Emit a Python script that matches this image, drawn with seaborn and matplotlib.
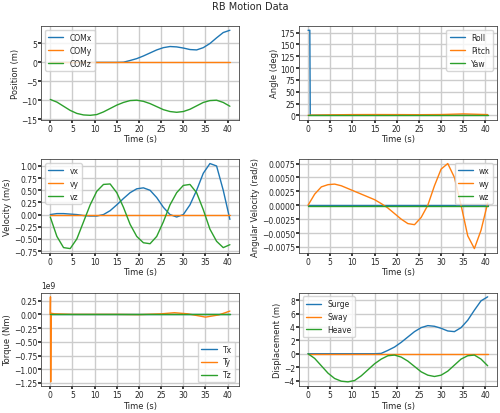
import matplotlib
matplotlib.use("Agg")
import matplotlib.pyplot as plt
import seaborn as sns
import numpy as np

t = [0, 1.5, 3, 4.5, 6, 7.5, 9, 10.5, 12, 13.5, 15, 16.5, 18, 19.5, 21, 22.5, 24, 25.5,
     27, 28.5, 30, 31.5, 33, 34.5, 36, 37.5, 39, 40.5]
com_x = [0, 0, 0, 0, 0, 0, 0, 0, 0, 0, 0, 0.05, 0.5, 1.0, 1.7, 2.5, 3.3, 3.9,
         4.2, 4.1, 3.8, 3.4, 3.3, 3.9, 5.0, 6.5, 7.9, 8.5]
com_y = [0.0] * len(t)
com_z = [-9.8, -10.5, -11.6, -12.7, -13.5, -13.9, -14.0, -13.8, -13.1, -12.2, -11.3, -10.6, -10.1, -10.0,
         -10.3, -10.9, -11.7, -12.5, -13.0, -13.2, -13.0, -12.4, -11.5, -10.6, -10.1, -10.0, -10.6, -11.6]

t_ang = [0, 0.4, 0.5, 5, 10, 15, 20, 25, 30, 35, 40.5]
roll = [180, 180, 0, 0, 0, 0, 0, 0, 0, 0, 0]
pitch = [0, 0, 0.3, 1.0, 1.5, 1.6, 1.5, 1.3, 1.6, 3.0, 1.5]
yaw = [0] * len(t_ang)

vx = [0, 0.02, 0.02, 0.01, 0.0, -0.02, -0.03, -0.03, 0.0, 0.08, 0.2, 0.33, 0.45, 0.53, 0.55, 0.5, 0.35, 0.15,
      0.0, -0.05, 0.0, 0.2, 0.5, 0.85, 1.05, 1.0, 0.5, -0.1]
vy = [0.0] * len(t)
vz = [-0.05, -0.45, -0.68, -0.7, -0.5, -0.15, 0.2, 0.48, 0.62, 0.63, 0.45, 0.15, -0.2, -0.45, -0.58, -0.6,
      -0.45, -0.15, 0.2, 0.45, 0.6, 0.62, 0.45, 0.1, -0.3, -0.55, -0.68, -0.62]

wx = [0.0] * len(t)
wy = [0, 0.002, 0.0033, 0.0037, 0.0038, 0.0035, 0.003, 0.0025, 0.002, 0.0015, 0.001, 0.0003, -0.0005, -0.0015,
      -0.0025, -0.0033, -0.0035, -0.0022, 0.0, 0.0035, 0.0065, 0.0075, 0.005, 0.0, -0.0055, -0.0078, -0.0045, 0.0004]
wz = [-0.0002] * len(t)

t_tq = [0, 0.05, 0.1, 0.2, 1, 5, 10, 15, 20, 25, 28, 31, 35, 38, 40.5]
tx = [0] * len(t_tq)
ty = [0, 0.32e9, -1.23e9, 0.02e9, 0.01e9, 0.0, 0.0, 0.0, -0.005e9, 0.01e9, 0.03e9, 0.01e9, -0.05e9, -0.01e9, 0.06e9]
tz = [0] * len(t_tq)

surge = com_x
sway = com_y
heave = [v + 9.8 for v in com_z]

sns.set_theme(style="whitegrid")
plt.rcParams.update({"font.size": 6, "axes.edgecolor": "#444444", "grid.color": "#cccccc",
                     "xtick.bottom": True, "ytick.left": True})
fig, axes = plt.subplots(3, 2, figsize=(5, 4.14), dpi=100)
fig.suptitle("RB Motion Data", fontsize=7, y=0.995)

panels = [
    (axes[0, 0], [(t, com_x, "COMx"), (t, com_y, "COMy"), (t, com_z, "COMz")], "Position (m)", "upper left",
     [-15, -10, -5, 0, 5]),
    (axes[0, 1], [(t_ang, roll, "Roll"), (t_ang, pitch, "Pitch"), (t_ang, yaw, "Yaw")], "Angle (deg)", "upper right",
     list(range(0, 176, 25))),
    (axes[1, 0], [(t, vx, "vx"), (t, vy, "vy"), (t, vz, "vz")], "Velocity (m/s)", "upper left",
     list(np.arange(-0.75, 1.01, 0.25))),
    (axes[1, 1], [(t, wx, "wx"), (t, wy, "wy"), (t, wz, "wz")], "Angular Velocity (rad/s)", "upper right",
     list(np.arange(-0.0075, 0.0076, 0.0025))),
    (axes[2, 0], [(t_tq, tx, "Tx"), (t_tq, ty, "Ty"), (t_tq, tz, "Tz")], "Torque (Nm)", "lower right",
     list(np.arange(-1.25e9, 0.26e9, 0.25e9))),
    (axes[2, 1], [(t, surge, "Surge"), (t, sway, "Sway"), (t, heave, "Heave")], "Displacement (m)", "upper left",
     [-4, -2, 0, 2, 4, 6, 8]),
]
colors = sns.color_palette("tab10")[:3]
for ax, series, ylabel, loc, yt in panels:
    for (x, y, lab), c in zip(series, colors):
        sns.lineplot(x=x, y=y, ax=ax, label=lab, color=c, linewidth=1)
    ax.set_xlabel("Time (s)", fontsize=6, labelpad=1)
    ax.set_ylabel(ylabel, fontsize=6, labelpad=1)
    ax.set_xticks(range(0, 41, 5))
    ax.set_yticks(yt)
    ax.tick_params(labelsize=5.5, length=2, pad=1)
    ax.legend(loc=loc, fontsize=5.5)
    for s in ax.spines.values():
        s.set_linewidth(0.6)
axes[2, 0].yaxis.get_offset_text().set_fontsize(5.5)

plt.tight_layout(pad=0.4, h_pad=0.6, w_pad=1.5, rect=(0, 0, 1, 0.975))
fig.savefig("out.png", dpi=100)
